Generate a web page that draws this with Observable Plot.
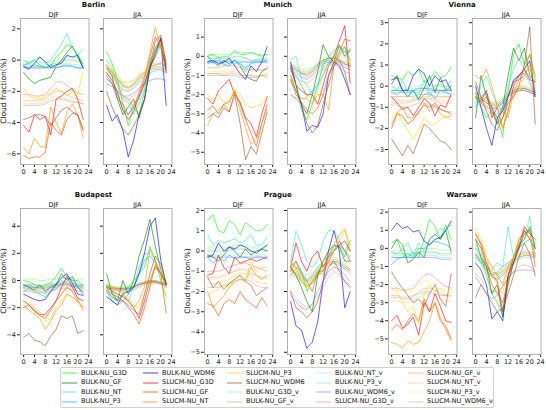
<!DOCTYPE html>
<html><head><meta charset="utf-8">
<script src="https://cdn.jsdelivr.net/npm/d3@7"></script>
<script src="https://cdn.jsdelivr.net/npm/@observablehq/plot@0.6"></script>
<style>
body{margin:0;background:#fff;font-family:"DejaVu Sans",sans-serif;}
#fig{position:relative;width:546px;height:410px;overflow:hidden;background:#fff}
.lbl{position:absolute;transform:translate(-50%,-50%);white-space:nowrap;line-height:1;color:#111}
.leg{position:absolute;font-size:6.5px;line-height:1;white-space:nowrap;color:#111}
</style></head><body><div id="fig"></div>
<script>
// ---------------- data ----------------
const hours = [0,2,4,6,8,10,12,14,16,18,20,22];
const xTicks = [0,4,8,12,16,20,24];
const seasonNames = ["DJF","JJA"];
const cityNames = ["Berlin","Munich","Vienna","Budapest","Prague","Warsaw"];
const seriesNames = ["BULK-NU_G3D","BULK-NU_GF","BULK-NU_NT","BULK-NU_P3","BULK-NU_WDM6",
  "SLUCM-NU_G3D","SLUCM-NU_GF","SLUCM-NU_NT","SLUCM-NU_P3","SLUCM-NU_WDM6",
  "BULK-NU_G3D_v","BULK-NU_GF_v","BULK-NU_NT_v","BULK-NU_P3_v","BULK-NU_WDM6_v",
  "SLUCM-NU_G3D_v","SLUCM-NU_GF_v","SLUCM-NU_NT_v","SLUCM-NU_P3_v","SLUCM-NU_WDM6_v"];
const baseColors = ["lime","green","turquoise","deepskyblue","blue","red","orangered","darkorange","gold","sienna"];
const seriesColors = baseColors.concat(baseColors);

const yTicksBerlin = [-6,-4,-2,0,2];
const yTicksMunich = [-5,-4,-3,-2,-1,0,1];
const yTicksVienna = [-3,-2,-1,0,1,2,3];
const yTicksBudapest = [-4,-2,0,2,4];
const yTicksPrague = [-5,-4,-3,-2,-1,0,1,2];
const yTicksWarsaw = [-5,-4,-3,-2,-1,0,1,2];
const yDomainBerlin = [-6.68, 2.66];
const yDomainMunich = [-5.64, 1.97];
const yDomainVienna = [-3.71, 3.2];
const yDomainBudapest = [-5.45, 5.3];
const yDomainPrague = [-5.11, 2.1];
const yDomainWarsaw = [-5.86, 2.2];

const berlinDJF = [
[-0.3,-0.2,0.0,-0.3,-0.5,-0.4,0.2,0.5,1.0,0.8,0.4,-0.3],
[-0.8,-1.2,-1.5,-1.3,-1.2,-1.1,-0.4,0.0,0.5,0.9,0.2,-0.5],
[0.0,-0.2,0.0,0.2,-0.2,0.0,0.5,1.0,1.7,0.8,0.3,0.7],
[-0.4,-0.5,-0.3,-0.4,-0.5,-0.3,-0.5,-0.4,-0.3,-0.4,-0.5,-0.5],
[-0.4,-0.6,-0.2,0.2,-0.1,-0.5,-0.3,-0.2,0.3,0.2,0.3,-0.5],
[-4.2,-4.6,-3.5,-3.8,-3.6,-4.8,-2.5,-2.3,-2.0,-1.8,-2.5,-3.8],
[-6.1,-6.3,-6.2,-6.2,-5.9,-4.0,-4.5,-4.8,-3.8,-3.4,-3.5,-4.4],
[-5.6,-6.0,-5.0,-5.5,-5.6,-3.0,-4.0,-4.7,-3.3,-2.8,-3.5,-5.0],
[-1.8,-2.3,-2.4,-2.5,-2.3,-2.1,-1.8,-2.0,-2.3,-2.0,-2.2,-0.7],
[-3.8,-3.7,-3.5,-3.5,-3.6,-4.2,-3.7,-3.2,-3.0,-3.3,-3.5,-4.5],
[-0.1,-0.1,-0.1,-0.1,-0.2,-0.1,0.0,0.1,0.2,0.2,0.1,0.0],
[-0.3,-0.3,-0.4,-0.4,-0.4,-0.3,-0.2,-0.1,0.0,0.0,-0.1,-0.2],
[-0.2,-0.2,-0.2,-0.3,-0.3,-0.2,-0.1,0.0,0.1,0.1,0.0,-0.1],
[-0.4,-0.4,-0.5,-0.5,-0.5,-0.4,-0.3,-0.3,-0.2,-0.3,-0.3,-0.4],
[-0.5,-0.5,-0.5,-0.5,-0.5,-0.5,-0.5,-0.4,-0.4,-0.4,-0.5,-0.5],
[-2.2,-2.2,-2.3,-2.3,-2.2,-1.8,-1.4,-1.4,-1.6,-1.9,-2.1,-2.2],
[-2.6,-2.6,-2.6,-2.6,-2.5,-2.2,-2.0,-2.0,-2.2,-2.4,-2.5,-2.6],
[-2.8,-2.8,-2.8,-2.8,-2.7,-2.4,-2.3,-2.4,-2.5,-2.6,-2.7,-2.8],
[-2.4,-2.4,-2.5,-2.5,-2.4,-2.1,-1.9,-1.9,-2.0,-2.2,-2.3,-2.4],
[-2.9,-2.9,-2.9,-2.9,-2.8,-2.6,-2.5,-2.5,-2.6,-2.7,-2.7,-2.8]];
const berlinJJA = [
[0.5,-0.2,-1.2,-2.8,-4.2,-3.0,-3.5,-2.0,0.0,0.5,1.0,-0.3],
[-0.5,-1.0,-2.5,-3.5,-3.0,-2.5,-3.7,-2.5,-0.5,0.8,1.3,-0.5],
[0.0,-0.5,-1.7,-2.5,-2.7,-3.5,-2.8,-1.8,-0.2,0.5,1.5,0.0],
[-1.2,-1.5,-2.2,-3.2,-3.5,-2.8,-2.5,-1.5,-0.5,0.2,1.0,-0.5],
[-2.9,-3.9,-3.5,-4.5,-6.2,-5.1,-3.5,-2.5,-0.5,0.5,1.4,-2.9],
[-0.8,-1.3,-2.0,-3.2,-3.8,-3.3,-2.3,-1.5,-0.5,0.3,1.4,-0.8],
[-1.0,-1.5,-2.5,-2.8,-3.5,-3.0,-2.2,-1.2,0.2,1.5,0.8,-0.7],
[-0.3,-0.8,-1.5,-2.3,-2.5,-3.0,-2.0,-1.0,0.5,2.1,0.8,0.0],
[-0.5,-0.6,-1.2,-1.5,-1.8,-1.5,-1.0,-0.8,-0.2,0.5,1.0,0.0],
[-2.0,-3.0,-3.8,-4.4,-4.8,-4.2,-3.5,-2.5,-0.3,1.2,1.6,-0.3],
[-0.3,-0.6,-1.0,-1.4,-1.5,-1.3,-1.0,-0.7,-0.4,-0.3,-0.3,-0.4],
[-0.5,-0.8,-1.3,-1.7,-1.8,-1.6,-1.2,-0.9,-0.6,-0.5,-0.5,-0.6],
[-0.6,-0.9,-1.3,-1.7,-1.9,-1.7,-1.3,-1.0,-0.7,-0.6,-0.6,-0.7],
[-0.9,-1.1,-1.5,-1.9,-2.0,-1.8,-1.5,-1.1,-0.8,-0.7,-0.7,-0.8],
[-1.5,-1.7,-2.0,-2.3,-2.3,-2.1,-1.8,-1.5,-1.3,-1.2,-1.2,-1.3],
[-0.4,-0.7,-1.2,-1.6,-1.7,-1.5,-1.1,-0.8,-0.5,-0.3,-0.2,-0.4],
[-0.7,-1.0,-1.5,-1.9,-2.0,-1.8,-1.4,-1.0,-0.6,-0.4,-0.4,-0.6],
[-0.5,-0.8,-1.2,-1.6,-1.8,-1.6,-1.2,-0.8,-0.4,-0.2,-0.2,-0.4],
[-0.4,-0.6,-1.0,-1.3,-1.4,-1.3,-1.0,-0.7,-0.4,-0.3,-0.3,-0.4],
[-1.2,-1.5,-2.0,-2.4,-2.5,-2.3,-1.9,-1.4,-0.9,-0.6,-0.6,-0.8]];
const munichDJF = [
[0.0,0.1,-0.1,0.0,0.0,0.3,0.1,0.1,0.2,0.1,0.0,0.1],
[0.0,-0.3,-0.5,-0.2,-0.4,-0.2,-0.5,-1.0,-1.2,-1.3,-0.8,-0.6],
[-0.2,-0.3,0.0,-0.5,-0.2,-0.4,-0.3,-0.8,-0.3,-0.2,-0.1,-0.3],
[-0.4,-0.3,-0.2,-0.4,-0.5,-0.2,-0.4,-0.6,-0.4,-0.3,-0.3,-0.2],
[-0.3,-0.2,-0.4,-0.3,-0.1,-0.5,-0.9,-1.2,-0.5,-0.8,-0.3,0.5],
[-2.2,-2.5,-1.8,-1.5,-1.2,-2.0,-2.4,-3.2,-3.5,-4.2,-3.0,-2.1],
[-2.8,-2.6,-3.0,-2.5,-2.4,-1.8,-2.5,-3.3,-4.0,-4.7,-3.5,-2.5],
[-3.6,-3.0,-2.8,-2.5,-2.9,-1.8,-2.8,-3.7,-4.6,-4.3,-3.5,-2.7],
[-2.0,-2.3,-2.0,-2.4,-2.3,-1.7,-2.0,-2.5,-2.7,-2.6,-2.5,-2.1],
[-3.2,-3.0,-3.2,-2.7,-2.9,-2.0,-3.5,-5.4,-4.7,-5.1,-4.0,-2.9],
[0.1,0.1,0.1,0.1,0.1,0.2,0.2,0.2,0.2,0.1,0.1,0.1],
[-0.1,-0.1,-0.1,-0.1,-0.1,0.0,0.0,-0.1,-0.2,-0.2,-0.2,-0.1],
[-0.2,-0.2,-0.2,-0.2,-0.1,-0.1,-0.1,-0.1,-0.2,-0.2,-0.2,-0.2],
[-0.3,-0.3,-0.3,-0.3,-0.2,-0.2,-0.2,-0.3,-0.3,-0.3,-0.3,-0.3],
[-0.3,-0.3,-0.3,-0.3,-0.3,-0.3,-0.3,-0.3,-0.3,-0.3,-0.3,-0.3],
[-0.6,-0.6,-0.6,-0.5,-0.5,-0.5,-0.6,-0.7,-0.7,-0.7,-0.7,-0.7],
[-0.9,-0.9,-0.9,-1.0,-0.9,-0.9,-1.0,-1.0,-1.0,-1.1,-1.0,-1.0],
[-0.9,-0.9,-0.9,-0.9,-0.8,-0.8,-0.9,-1.0,-1.0,-1.0,-1.0,-0.9],
[-0.8,-0.8,-0.8,-0.8,-0.7,-0.7,-0.8,-0.8,-0.8,-0.8,-0.8,-0.9],
[-1.0,-1.0,-1.0,-1.0,-1.0,-1.0,-1.1,-1.1,-1.1,-1.1,-1.0,-1.1]];
const munichJJA = [
[-0.5,-1.5,-2.8,-3.3,-2.5,-1.5,-0.5,0.0,0.3,0.5,0.2,0.3],
[-1.0,-1.8,-2.5,-3.0,-2.0,-0.8,0.6,0.0,-0.3,0.6,0.0,0.3],
[-0.2,0.0,-1.2,-1.5,-2.0,-1.6,-0.3,-0.2,0.0,0.5,0.2,0.4],
[-0.8,-1.0,-1.5,-2.1,-1.8,-1.5,-1.0,-0.3,-0.3,0.0,0.5,-0.2],
[-0.3,-1.5,-2.5,-3.9,-3.6,-3.7,-3.0,-1.0,-0.3,-0.5,-1.2,-2.0],
[-0.6,-1.5,-1.8,-2.0,-2.0,-2.5,-1.5,-0.5,0.0,0.8,1.6,-1.4],
[-1.2,-2.0,-2.4,-2.8,-3.0,-2.7,-2.0,-1.0,-0.5,0.2,0.9,0.8],
[-1.3,-1.8,-2.2,-2.2,-2.5,-2.0,-2.0,-2.8,-0.5,0.3,0.5,-0.5],
[-1.0,-1.5,-1.5,-2.0,-2.2,-1.8,-1.0,-0.5,-0.3,0.2,0.0,-0.3],
[-2.0,-2.2,-2.5,-3.5,-4.0,-3.6,-2.5,-1.5,-0.5,-0.2,-0.8,-2.0],
[-0.4,-0.6,-0.8,-0.8,-0.6,-0.4,-0.2,-0.1,-0.1,-0.2,-0.3,-0.4],
[-0.5,-0.7,-0.9,-0.9,-0.7,-0.4,-0.2,-0.1,-0.1,-0.2,-0.4,-0.5],
[-0.4,-0.5,-0.7,-0.7,-0.6,-0.4,-0.2,-0.1,0.0,-0.1,-0.2,-0.3],
[-0.6,-0.7,-0.9,-1.0,-0.8,-0.5,-0.3,-0.2,-0.2,-0.3,-0.4,-0.5],
[-0.7,-0.9,-1.1,-1.2,-1.0,-0.7,-0.4,-0.3,-0.3,-0.4,-0.6,-0.7],
[-0.5,-0.7,-0.9,-1.0,-0.8,-0.5,-0.2,-0.1,-0.1,-0.2,-0.4,-0.5],
[-0.6,-0.8,-1.0,-1.1,-0.9,-0.6,-0.3,-0.2,-0.2,-0.3,-0.5,-0.6],
[-0.5,-0.6,-0.8,-0.9,-0.8,-0.5,-0.3,-0.1,-0.1,-0.2,-0.3,-0.4],
[-0.4,-0.6,-0.7,-0.8,-0.7,-0.4,-0.2,-0.1,-0.1,-0.2,-0.3,-0.4],
[-0.9,-1.1,-1.3,-1.4,-1.2,-0.9,-0.6,-0.4,-0.4,-0.6,-0.8,-0.9]];
const viennaDJF = [
[0.5,0.4,0.3,0.7,0.5,0.8,0.2,0.3,0.7,0.4,0.5,0.9],
[0.1,0.5,-0.2,-0.5,-0.2,-0.6,-0.1,0.5,-0.3,0.4,-0.2,0.0],
[0.0,-0.2,0.3,-0.3,-0.2,-0.4,0.3,-0.5,0.0,0.1,-0.1,0.3],
[-0.3,-0.4,-0.2,-0.5,-0.2,-0.7,-0.4,-0.3,-0.6,-0.2,-0.3,-0.4],
[0.3,0.4,-0.2,-0.2,0.5,0.8,0.6,0.0,0.5,0.2,0.3,-0.2],
[-0.5,-0.8,-1.1,-1.0,-1.4,-1.0,-0.6,-0.8,-1.4,-0.9,-1.0,-0.4],
[-2.0,-1.3,-1.4,-1.8,-1.6,-1.2,-0.9,-1.0,-0.8,-1.1,-1.2,-1.3],
[-1.8,-1.3,-1.0,-1.5,-1.5,-1.3,-0.8,-1.2,-0.9,-1.3,-1.5,-1.4],
[-1.6,-1.2,-1.7,-2.1,-2.5,-2.1,-1.5,-1.8,-1.8,-1.6,-1.4,-1.6],
[-2.5,-2.9,-3.3,-2.8,-3.2,-2.5,-1.8,-2.0,-2.3,-2.6,-2.7,-3.0],
[0.0,-0.1,-0.1,-0.1,0.0,0.0,0.1,0.0,0.0,0.0,0.0,0.0],
[-0.2,-0.2,-0.3,-0.3,-0.2,-0.2,-0.1,-0.2,-0.2,-0.2,-0.2,-0.2],
[-0.2,-0.2,-0.2,-0.2,-0.1,-0.1,-0.1,-0.1,-0.1,-0.2,-0.2,-0.2],
[-0.3,-0.3,-0.3,-0.3,-0.3,-0.3,-0.2,-0.2,-0.3,-0.3,-0.3,-0.3],
[-0.2,-0.2,-0.2,-0.2,-0.2,-0.1,-0.1,-0.1,-0.2,-0.2,-0.2,-0.2],
[-0.5,-0.5,-0.5,-0.5,-0.5,-0.4,-0.4,-0.4,-0.5,-0.5,-0.5,-0.5],
[-0.8,-0.8,-0.8,-0.8,-0.7,-0.6,-0.6,-0.6,-0.7,-0.8,-0.8,-0.8],
[-0.7,-0.7,-0.7,-0.7,-0.6,-0.6,-0.5,-0.5,-0.6,-0.7,-0.7,-0.7],
[-0.6,-0.6,-0.7,-0.7,-0.6,-0.5,-0.5,-0.5,-0.6,-0.6,-0.6,-0.6],
[-0.9,-0.9,-1.0,-1.0,-0.9,-0.8,-0.8,-0.9,-1.0,-1.1,-1.2,-1.2]];
const viennaJJA = [
[-0.5,-1.0,-1.5,-1.2,-1.5,-2.4,-0.3,1.5,2.0,1.0,1.5,0.3],
[-1.5,0.5,-0.5,-1.0,-1.8,-1.0,0.5,1.8,1.2,1.8,0.5,0.2],
[-0.8,0.0,0.5,-0.3,-0.8,-1.2,0.0,0.8,1.3,0.8,0.4,0.1],
[-1.0,-0.5,-0.3,-1.0,-1.5,-1.0,-0.5,0.2,0.5,0.6,0.2,-0.5],
[0.0,-1.0,-2.0,-2.8,-1.5,-1.2,-0.5,0.3,0.5,0.8,1.2,-0.5],
[-0.5,-0.7,-0.2,-1.5,-1.0,-2.0,-1.2,0.0,0.5,0.8,0.3,0.2],
[-0.3,-0.8,-0.5,-1.2,-1.8,-1.5,-0.5,0.2,0.3,0.5,1.0,-0.3],
[0.5,0.3,0.8,0.0,-1.0,-1.2,-1.5,-0.3,0.3,0.8,1.5,0.5],
[-0.3,-0.8,-1.0,-0.8,-1.0,-2.0,-1.0,-0.5,-0.3,0.5,1.0,0.0],
[0.2,-0.5,-1.2,-1.8,-2.1,-1.5,-0.8,-0.5,0.0,1.0,2.8,-1.8],
[-0.4,-0.5,-0.7,-0.8,-0.8,-0.6,-0.4,-0.2,-0.1,-0.1,-0.2,-0.3],
[-0.5,-0.6,-0.8,-0.9,-0.9,-0.7,-0.4,-0.2,-0.1,-0.1,-0.2,-0.3],
[-0.3,-0.4,-0.6,-0.7,-0.7,-0.5,-0.3,-0.1,0.0,0.0,-0.1,-0.2],
[-0.5,-0.6,-0.8,-1.0,-1.0,-0.8,-0.5,-0.3,-0.2,-0.2,-0.3,-0.4],
[-0.6,-0.8,-1.0,-1.1,-1.0,-0.8,-0.5,-0.3,-0.2,-0.2,-0.3,-0.4],
[-0.4,-0.6,-0.8,-0.9,-0.9,-0.7,-0.4,-0.2,-0.1,-0.1,-0.2,-0.3],
[-0.5,-0.7,-0.9,-1.0,-1.0,-0.8,-0.5,-0.3,-0.2,-0.2,-0.3,-0.4],
[-0.3,-0.5,-0.7,-0.8,-0.8,-0.6,-0.3,-0.1,0.0,0.0,-0.1,-0.2],
[-0.4,-0.5,-0.7,-0.8,-0.8,-0.6,-0.4,-0.2,-0.1,-0.1,-0.2,-0.3],
[-0.6,-0.8,-1.1,-1.3,-1.3,-1.0,-0.7,-0.4,-0.2,-0.1,-0.2,-0.4]];
const budapestDJF = [
[0.0,-0.1,-0.3,-0.5,-0.3,-0.2,0.3,0.9,0.3,0.0,0.0,-0.4],
[-0.3,-0.5,-0.7,-0.3,-0.8,-0.5,-0.3,0.5,0.0,0.3,-0.5,-1.0],
[-0.5,-0.3,-0.6,-0.8,-1.0,-0.5,-0.5,0.0,-0.2,-0.5,-0.4,-0.6],
[-0.8,-0.6,-0.8,-1.0,-1.2,-0.8,-0.6,-0.3,0.2,0.0,-0.5,-0.8],
[-1.0,-1.2,-1.4,-1.5,-1.4,-0.8,-0.3,0.2,0.5,-0.2,-1.0,-1.1],
[-1.5,-1.8,-2.2,-2.5,-2.5,-2.0,-1.5,-0.5,0.3,-0.5,-1.3,-1.5],
[-2.0,-1.8,-2.3,-2.6,-2.8,-2.2,-1.5,-1.0,-0.5,-0.8,-1.5,-2.0],
[-1.8,-2.2,-2.5,-2.8,-3.6,-3.0,-2.2,-1.8,-1.0,-1.2,-1.5,-2.2],
[-1.5,-1.7,-2.0,-2.3,-3.0,-2.8,-2.0,-1.5,-1.0,-1.3,-1.6,-2.0],
[-4.2,-3.9,-4.4,-4.5,-4.8,-4.1,-3.6,-2.6,-2.8,-2.6,-3.9,-3.7],
[0.1,0.1,0.1,0.0,0.0,0.1,0.1,0.2,0.1,0.1,0.1,0.1],
[-0.3,-0.3,-0.3,-0.4,-0.4,-0.3,-0.2,-0.1,-0.1,-0.2,-0.3,-0.3],
[-0.4,-0.4,-0.4,-0.4,-0.4,-0.3,-0.3,-0.2,-0.2,-0.3,-0.4,-0.4],
[-0.4,-0.4,-0.5,-0.5,-0.5,-0.4,-0.3,-0.3,-0.3,-0.4,-0.4,-0.4],
[-0.5,-0.5,-0.5,-0.6,-0.6,-0.5,-0.4,-0.3,-0.3,-0.4,-0.5,-0.5],
[-0.4,-0.4,-0.5,-0.5,-0.5,-0.4,-0.3,-0.2,-0.2,-0.3,-0.4,-0.4],
[-0.6,-0.6,-0.7,-0.7,-0.7,-0.6,-0.5,-0.4,-0.4,-0.5,-0.6,-0.6],
[-0.7,-0.7,-0.8,-0.8,-0.8,-0.7,-0.6,-0.5,-0.5,-0.6,-0.7,-0.7],
[-0.5,-0.5,-0.6,-0.6,-0.6,-0.5,-0.4,-0.3,-0.3,-0.4,-0.5,-0.5],
[-0.8,-0.8,-0.9,-0.9,-0.9,-0.8,-0.7,-0.6,-0.6,-0.7,-0.8,-0.8]];
const budapestJJA = [
[-0.3,-0.8,-1.5,-1.0,-0.5,0.0,0.5,1.0,2.5,1.5,0.0,-1.2],
[0.5,-1.0,-1.5,0.0,-1.0,0.0,1.8,3.0,4.5,2.5,0.8,-0.3],
[-0.5,-1.3,-1.5,-1.0,-1.5,-0.5,1.0,2.0,2.0,1.5,0.5,0.0],
[-0.8,-1.5,-1.8,-1.5,-1.0,-0.5,0.5,1.5,1.8,1.3,0.5,-0.2],
[-1.2,-1.5,-1.8,-1.0,-0.8,-0.5,0.5,2.0,4.0,4.6,1.5,-0.3],
[-0.5,-0.8,-1.0,-1.2,-1.5,-2.0,-2.8,-1.5,0.0,1.0,0.5,-0.3],
[-0.8,-1.2,-1.5,-1.5,-2.0,-2.5,-3.2,-2.0,-0.5,1.2,0.5,-2.4],
[-0.5,-0.8,-0.5,-1.0,-1.5,-2.0,-1.5,-0.5,2.3,1.5,0.5,-0.5],
[-0.3,-0.5,-0.8,-1.0,-1.3,-1.8,-2.0,-1.0,0.0,1.2,0.8,0.0],
[-0.7,-1.0,-1.2,-1.5,-1.8,-2.2,-2.5,-1.0,0.5,1.8,1.2,-0.2],
[-0.3,-0.4,-0.5,-0.5,-0.5,-0.4,-0.3,-0.1,0.0,0.0,-0.1,-0.2],
[-0.4,-0.5,-0.6,-0.6,-0.5,-0.4,-0.2,-0.1,0.0,0.0,-0.1,-0.3],
[-0.3,-0.4,-0.5,-0.5,-0.4,-0.3,-0.2,-0.1,0.0,-0.1,-0.2,-0.3],
[-0.5,-0.6,-0.6,-0.6,-0.6,-0.5,-0.3,-0.2,-0.1,-0.1,-0.2,-0.4],
[-0.5,-0.6,-0.7,-0.7,-0.6,-0.5,-0.3,-0.2,-0.1,-0.1,-0.2,-0.4],
[-0.4,-0.5,-0.6,-0.6,-0.6,-0.5,-0.3,-0.2,-0.1,-0.1,-0.2,-0.3],
[-0.5,-0.6,-0.7,-0.7,-0.7,-0.6,-0.4,-0.2,-0.1,-0.1,-0.2,-0.4],
[-0.4,-0.5,-0.6,-0.6,-0.6,-0.5,-0.3,-0.2,-0.1,-0.1,-0.2,-0.3],
[-0.3,-0.4,-0.5,-0.5,-0.5,-0.4,-0.3,-0.1,0.0,0.0,-0.1,-0.2],
[-0.6,-0.7,-0.8,-0.8,-0.8,-0.7,-0.5,-0.3,-0.2,-0.2,-0.3,-0.5]];
const pragueDJF = [
[1.5,1.8,1.0,0.9,1.5,1.3,0.8,1.4,1.2,1.0,1.0,1.3],
[-0.2,-0.3,-0.5,-0.2,0.2,0.0,-0.3,0.1,-0.2,0.0,0.1,0.0],
[0.8,0.3,0.5,0.4,0.5,0.6,0.4,0.5,0.8,0.3,0.3,0.7],
[-0.3,-0.6,-0.3,-0.5,-0.2,-0.4,-0.3,-0.3,-0.4,-0.3,-0.3,-0.4],
[-0.3,-0.2,0.4,0.0,0.2,0.1,0.3,0.2,0.0,-0.1,0.1,0.3],
[-1.2,-1.1,-0.2,-0.8,-1.1,-0.3,-0.6,-0.5,-0.4,-0.5,-0.4,-0.3],
[-2.6,-2.7,-3.2,-2.6,-2.4,-2.6,-2.0,-2.4,-2.6,-2.8,-2.3,-2.7],
[-2.0,-2.8,-2.5,-2.2,-1.8,-1.5,-1.4,-1.5,-0.8,-1.2,-1.4,-1.2],
[-2.2,-2.0,-1.9,-1.6,-1.8,-1.3,-1.2,-1.4,-0.5,-1.0,-0.8,-0.8],
[-1.3,-1.8,-1.5,-1.9,-1.6,-1.4,-1.2,-1.5,-1.7,-2.2,-2.0,-1.8],
[0.2,0.2,0.2,0.2,0.2,0.3,0.3,0.3,0.2,0.2,0.2,0.2],
[0.0,0.0,0.0,0.0,0.0,0.1,0.1,0.1,0.0,0.0,0.0,0.0],
[0.1,0.1,0.1,0.1,0.1,0.2,0.2,0.2,0.1,0.1,0.1,0.1],
[-0.2,-0.2,-0.2,-0.2,-0.2,-0.2,-0.1,-0.1,-0.2,-0.2,-0.2,-0.2],
[-0.3,-0.3,-0.3,-0.3,-0.3,-0.3,-0.3,-0.3,-0.3,-0.3,-0.3,-0.3],
[-1.0,-1.0,-1.0,-0.9,-0.8,-0.7,-0.6,-0.6,-0.7,-0.8,-0.9,-1.0],
[-1.3,-1.3,-1.3,-1.2,-1.1,-1.0,-0.9,-0.9,-1.1,-1.2,-1.3,-1.3],
[-1.6,-1.6,-1.6,-1.5,-1.4,-1.2,-1.1,-1.1,-1.3,-1.5,-1.6,-1.6],
[-1.4,-1.4,-1.4,-1.3,-1.2,-1.0,-0.9,-1.0,-1.2,-1.3,-1.4,-1.4],
[-1.8,-1.8,-1.8,-1.7,-1.6,-1.5,-1.4,-1.4,-1.5,-1.7,-1.8,-1.8]];
const pragueJJA = [
[-0.5,-0.8,-1.0,-2.0,-1.5,-1.2,-0.5,-0.2,0.0,0.3,-0.3,0.5],
[-0.8,-1.2,-1.8,-2.5,-3.0,-1.2,-0.5,0.0,0.3,0.2,-0.5,-0.5],
[-0.5,1.0,0.3,-0.5,-0.8,-0.5,0.5,1.0,1.0,0.5,0.0,0.5],
[-0.8,-0.5,-1.0,-1.5,-1.2,-0.8,-0.5,-0.3,0.2,0.3,0.0,-0.3],
[-2.5,-3.7,-3.9,-4.8,-4.5,-3.5,-1.5,0.0,1.0,0.0,-2.8,-2.0],
[-0.8,0.4,-0.5,-1.0,-0.3,0.0,-0.8,-0.3,0.0,0.3,0.5,0.0],
[-1.0,-0.5,-1.2,-1.5,-2.0,-1.0,-1.0,-0.5,0.0,0.5,0.0,-0.5],
[-1.2,-0.8,-1.5,-1.8,-1.5,-1.0,-1.2,-0.2,0.3,0.8,1.1,0.0],
[-0.5,-1.0,-1.5,-1.8,-1.3,-1.0,-0.5,-0.2,0.0,0.5,1.0,0.3],
[-2.0,-2.8,-3.0,-3.3,-3.0,-2.5,-1.5,-0.8,-0.5,-1.0,-1.5,-1.8],
[-0.8,-1.1,-1.4,-1.5,-1.4,-1.1,-0.8,-0.6,-0.5,-0.6,-0.8,-0.9],
[-0.9,-1.2,-1.5,-1.7,-1.6,-1.2,-0.9,-0.6,-0.5,-0.6,-0.8,-1.0],
[-0.6,-0.8,-1.1,-1.2,-1.1,-0.9,-0.6,-0.4,-0.3,-0.4,-0.6,-0.7],
[-1.0,-1.2,-1.5,-1.6,-1.5,-1.2,-0.9,-0.7,-0.6,-0.7,-0.9,-1.0],
[-2.2,-2.5,-2.8,-2.9,-2.6,-2.0,-1.5,-1.0,-0.8,-0.9,-1.2,-1.5],
[-0.9,-1.1,-1.3,-1.4,-1.3,-1.0,-0.7,-0.5,-0.4,-0.5,-0.7,-0.9],
[-1.1,-1.3,-1.6,-1.7,-1.6,-1.3,-1.0,-0.7,-0.6,-0.7,-0.9,-1.1],
[-0.9,-1.1,-1.4,-1.5,-1.4,-1.1,-0.8,-0.6,-0.5,-0.6,-0.8,-0.9],
[-0.8,-1.0,-1.2,-1.3,-1.2,-1.0,-0.7,-0.5,-0.4,-0.5,-0.7,-0.8],
[-2.0,-2.3,-2.6,-2.8,-2.7,-2.3,-1.8,-1.3,-1.0,-1.2,-1.5,-1.7]];
const warsawDJF = [
[0.3,0.5,-0.3,-0.5,-0.2,-0.5,0.5,1.6,1.2,0.5,1.3,0.5],
[0.0,0.5,0.2,-0.8,-0.6,-0.2,-0.5,0.5,0.8,0.5,1.0,-0.2],
[-0.2,-0.3,0.0,0.3,-0.4,0.3,-0.2,0.5,0.7,1.1,1.0,1.3],
[-0.9,-0.6,-0.5,-0.3,-0.5,0.0,0.0,0.2,0.4,0.3,0.2,0.0],
[1.0,1.4,1.1,1.2,0.9,1.0,0.4,0.2,0.5,0.6,1.0,1.5],
[-4.0,-3.7,-4.4,-4.2,-3.8,-4.8,-3.0,-3.5,-2.5,-3.2,-4.0,-4.1],
[-4.5,-4.2,-4.5,-4.0,-3.6,-4.0,-2.8,-3.5,-3.0,-4.0,-4.3,-5.0],
[-5.2,-5.3,-5.5,-5.1,-5.3,-5.2,-4.6,-4.0,-3.0,-3.8,-4.5,-5.1],
[-2.2,-2.4,-3.0,-3.5,-3.2,-4.2,-2.5,-2.0,-2.4,-2.2,-2.6,-2.4],
[-1.3,-1.8,-2.2,-2.6,-3.0,-2.8,-3.2,-2.5,-2.0,-2.8,-3.2,-1.4],
[-0.1,-0.1,-0.1,-0.1,-0.1,0.0,0.0,0.0,0.0,-0.1,-0.1,-0.1],
[-0.3,-0.3,-0.3,-0.3,-0.3,-0.2,-0.2,-0.2,-0.2,-0.3,-0.3,-0.3],
[-0.4,-0.4,-0.4,-0.4,-0.4,-0.3,-0.3,-0.3,-0.3,-0.4,-0.4,-0.4],
[-0.5,-0.5,-0.5,-0.5,-0.5,-0.5,-0.4,-0.4,-0.4,-0.5,-0.5,-0.5],
[-0.5,-0.5,-0.5,-0.5,-0.5,-0.5,-0.5,-0.5,-0.5,-0.6,-0.6,-0.6],
[-2.2,-2.2,-2.3,-2.3,-2.2,-1.8,-1.5,-1.4,-1.6,-1.9,-2.1,-2.2],
[-2.7,-2.7,-2.8,-2.8,-2.7,-2.4,-2.2,-2.2,-2.3,-2.5,-2.6,-2.7],
[-2.9,-2.9,-3.0,-3.0,-2.9,-2.7,-2.5,-2.5,-2.6,-2.8,-2.9,-2.9],
[-2.3,-2.3,-2.4,-2.4,-2.3,-2.0,-1.8,-1.8,-2.0,-2.2,-2.3,-2.3],
[-2.6,-2.6,-2.7,-2.7,-2.6,-2.5,-2.4,-2.4,-2.5,-2.6,-2.6,-2.6]];
const warsawJJA = [
[0.0,-0.5,-1.5,-2.5,-3.0,-3.7,-1.5,-0.5,0.5,0.8,1.0,0.2],
[0.5,-0.5,-1.0,-2.5,-2.0,-3.8,-2.0,-0.8,0.2,0.5,1.2,0.0],
[0.2,-0.3,-1.0,-1.2,-0.8,-1.0,1.2,-0.5,0.0,0.5,1.8,-0.5],
[-0.3,-0.8,-1.0,-1.5,-1.3,-1.0,-0.8,-0.5,0.0,0.3,0.5,-0.3],
[-0.8,-1.2,-2.0,-3.9,-3.5,-4.0,-1.5,-0.8,0.0,1.0,0.5,0.0],
[0.8,0.2,-0.8,-1.5,-1.8,-3.5,-1.5,-0.5,0.2,1.2,0.8,0.5],
[0.5,0.0,-1.0,-2.0,-2.5,-3.0,-1.8,-0.8,0.0,0.8,1.0,-1.0],
[0.8,0.3,-0.5,-1.0,-1.5,-2.0,-1.0,-0.5,0.5,1.0,0.5,0.0],
[1.1,0.5,-0.5,-1.5,-2.0,-2.5,-1.2,-0.5,0.3,0.8,0.6,-0.3],
[-2.7,-2.0,-2.5,-3.0,-3.5,-3.3,-2.5,-1.5,-0.5,0.3,-0.3,-1.5],
[-0.4,-0.7,-1.1,-1.4,-1.5,-1.3,-1.0,-0.7,-0.4,-0.3,-0.3,-0.4],
[-0.5,-0.8,-1.2,-1.6,-1.7,-1.5,-1.1,-0.8,-0.5,-0.4,-0.4,-0.5],
[-0.4,-0.6,-1.0,-1.3,-1.4,-1.3,-1.0,-0.7,-0.4,-0.3,-0.3,-0.4],
[-0.6,-0.9,-1.3,-1.6,-1.7,-1.5,-1.2,-0.9,-0.6,-0.5,-0.5,-0.6],
[-1.6,-2.0,-2.5,-2.8,-2.6,-2.1,-1.6,-1.3,-1.2,-1.2,-1.2,-1.3],
[-0.3,-0.6,-1.0,-1.3,-1.4,-1.2,-0.9,-0.6,-0.3,-0.2,-0.2,-0.3],
[-0.5,-0.8,-1.2,-1.5,-1.6,-1.4,-1.1,-0.8,-0.5,-0.4,-0.4,-0.5],
[-0.4,-0.7,-1.1,-1.4,-1.5,-1.3,-1.0,-0.7,-0.4,-0.3,-0.3,-0.4],
[-0.3,-0.6,-1.0,-1.3,-1.4,-1.2,-0.9,-0.6,-0.3,-0.2,-0.2,-0.3],
[-1.4,-1.7,-2.1,-2.4,-2.4,-2.1,-1.7,-1.3,-1.0,-0.9,-1.0,-1.2]];

const cityData = [[berlinDJF,berlinJJA],[munichDJF,munichJJA],[viennaDJF,viennaJJA],
  [budapestDJF,budapestJJA],[pragueDJF,pragueJJA],[warsawDJF,warsawJJA]];
const cityTicks = [yTicksBerlin,yTicksMunich,yTicksVienna,yTicksBudapest,yTicksPrague,yTicksWarsaw];
const cityDomains = [yDomainBerlin,yDomainMunich,yDomainVienna,yDomainBudapest,yDomainPrague,yDomainWarsaw];

// ---------------- layout ----------------
const fig = document.getElementById("fig");
const FONT = "DejaVu Sans";
const panelW = 68.5, panelH = 146, innerGap = 83.5, groupStep = 184.3;
const ML = 22, MR = 3, MT = 3, MB = 14;
const mainOpacity = 0.62, fadedOpacity = 0.28;

function addLabel(text, x, y, size, extra) {
  const d = document.createElement("div");
  d.className = "lbl";
  d.textContent = text;
  d.style.left = x + "px";
  d.style.top = y + "px";
  d.style.fontSize = size + "px";
  if (extra) Object.assign(d.style, extra);
  fig.appendChild(d);
}

cityNames.forEach((city, ci) => {
  const col = ci % 3, row = Math.floor(ci / 3);
  const top = row ? 208 : 18;
  const groupL = 19.5 + groupStep * col;
  addLabel(city, groupL + 74, top - 13.5, 7, {fontWeight: "bold"});
  addLabel("Cloud fraction(%)", groupL - 15.5, top + panelH / 2, 7.5, {transform: "translate(-50%,-50%) rotate(-90deg)"});
  seasonNames.forEach((season, si) => {
    const L = groupL + innerGap * si;
    addLabel(season, L + panelW / 2, top - 3.5, 6.5);
    const rows = [];
    cityData[ci][si].forEach((vals, k) => vals.forEach((v, j) =>
      rows.push({s: seriesNames[k], h: hours[j], v, faded: k >= 10})));
    const fmt = d3.format("d");
    const svg = Plot.plot({
      width: ML + panelW + MR, height: MT + panelH + MB,
      marginLeft: ML, marginRight: MR, marginTop: MT, marginBottom: MB,
      style: {fontFamily: FONT, fontSize: "6.5px", color: "#222", background: "transparent", overflow: "visible"},
      x: {domain: [-1.15, 24.15], ticks: xTicks, tickFormat: fmt, tickSize: 3, tickPadding: 1.5, label: null},
      y: {domain: cityDomains[ci], ticks: cityTicks[ci], tickSize: 3, tickPadding: 1.5,
          tickFormat: si === 0 ? fmt : () => "", label: null},
      color: {domain: seriesNames, range: seriesColors},
      marks: [
        Plot.line(rows.filter(d => d.faded), {x: "h", y: "v", z: "s", stroke: "s", strokeWidth: 1, strokeOpacity: fadedOpacity, clip: true}),
        Plot.line(rows.filter(d => !d.faded), {x: "h", y: "v", z: "s", stroke: "s", strokeWidth: 1, strokeOpacity: mainOpacity, clip: true}),
        Plot.frame({stroke: "#b0b0b0", strokeWidth: 1})
      ]
    });
    svg.style.position = "absolute";
    svg.style.left = (L - ML) + "px";
    svg.style.top = (top - MT) + "px";
    fig.appendChild(svg);
  });
});

// ---------------- legend ----------------
const legBox = document.createElement("div");
Object.assign(legBox.style, {position: "absolute", left: "60px", top: "367px", width: "434px", height: "41px",
  border: "1px solid #d0d0d0", borderRadius: "2px", background: "#fff", boxSizing: "border-box"});
fig.appendChild(legBox);
const legColX = [62, 143, 227, 316, 408];
const legRowY = [373, 382.5, 392, 401.5];
seriesNames.forEach((name, i) => {
  const c = Math.floor(i / 4), r = i % 4;
  const x = legColX[c], y = legRowY[r];
  const s = document.createElementNS("http://www.w3.org/2000/svg", "svg");
  s.setAttribute("width", 15); s.setAttribute("height", 4);
  Object.assign(s.style, {position: "absolute", left: x + "px", top: (y - 2) + "px"});
  const ln = document.createElementNS("http://www.w3.org/2000/svg", "line");
  ln.setAttribute("x1", 0); ln.setAttribute("x2", 15); ln.setAttribute("y1", 2); ln.setAttribute("y2", 2);
  ln.setAttribute("stroke", seriesColors[i]);
  ln.setAttribute("stroke-width", 1.2);
  ln.setAttribute("stroke-opacity", i >= 10 ? fadedOpacity : mainOpacity);
  s.appendChild(ln);
  fig.appendChild(s);
  const t = document.createElement("div");
  t.className = "leg";
  t.textContent = name;
  t.style.left = (x + 19) + "px";
  t.style.top = (y - 3.5) + "px";
  fig.appendChild(t);
});
</script></body></html>
